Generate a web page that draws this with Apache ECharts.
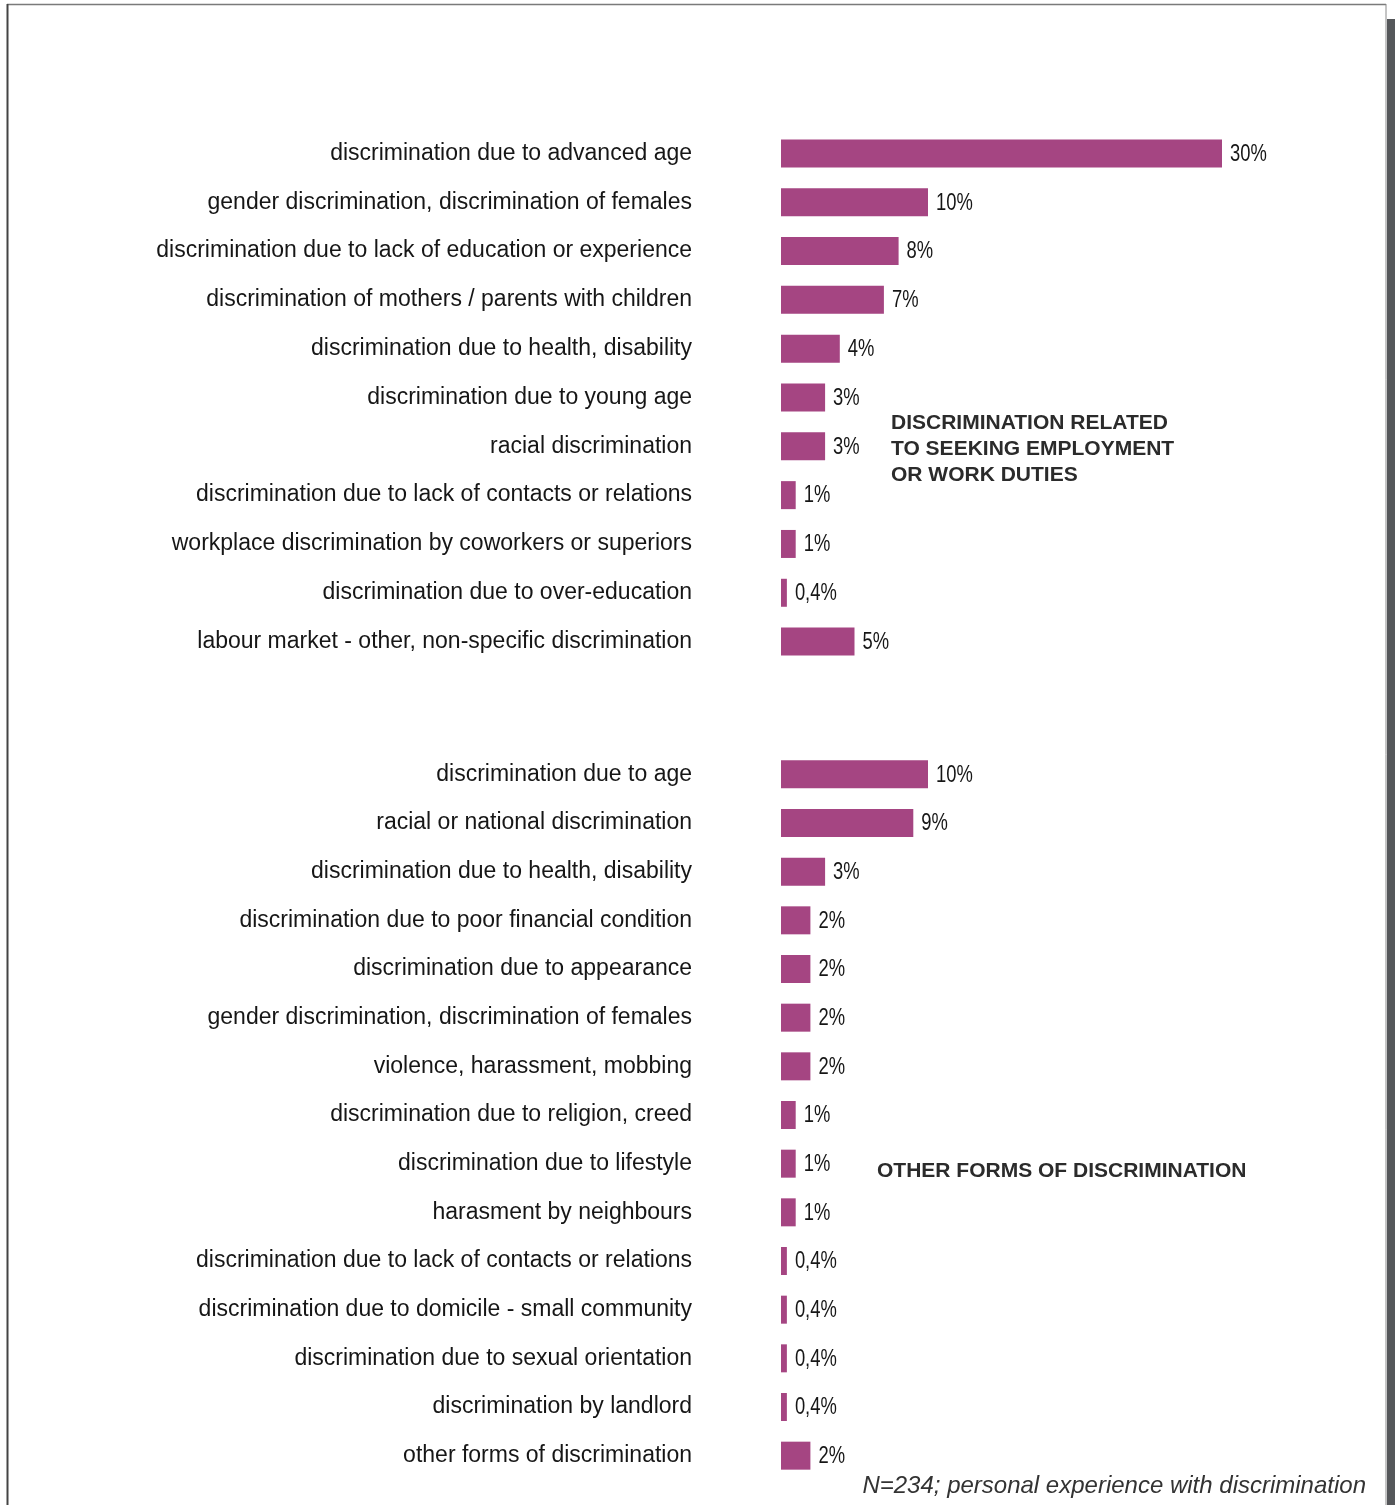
<!DOCTYPE html>
<html>
<head>
<meta charset="utf-8">
<script src="https://cdn.jsdelivr.net/npm/echarts@6/dist/echarts.min.js"></script>
<style>
  html, body { margin: 0; padding: 0; background: #fff; }
  #chart { width: 1396px; height: 1505px; }
</style>
</head>
<body>
<div id="chart"></div>
<script>
// Labour-market related discrimination
const workCategories = [
  'discrimination due to advanced age',
  'gender discrimination, discrimination of females',
  'discrimination due to lack of education or experience',
  'discrimination of mothers / parents with children',
  'discrimination due to health, disability',
  'discrimination due to young age',
  'racial discrimination',
  'discrimination due to lack of contacts or relations',
  'workplace discrimination by coworkers or superiors',
  'discrimination due to over-education',
  'labour market - other, non-specific discrimination'
];
const workValues = [30, 10, 8, 7, 4, 3, 3, 1, 1, 0.4, 5];

// Other forms of discrimination
const otherCategories = [
  'discrimination due to age',
  'racial or national discrimination',
  'discrimination due to health, disability',
  'discrimination due to poor financial condition',
  'discrimination due to appearance',
  'gender discrimination, discrimination of females',
  'violence, harassment, mobbing',
  'discrimination due to religion, creed',
  'discrimination due to lifestyle',
  'harasment by neighbours',
  'discrimination due to lack of contacts or relations',
  'discrimination due to domicile - small community',
  'discrimination due to sexual orientation',
  'discrimination by landlord',
  'other forms of discrimination'
];
const otherValues = [10, 9, 3, 2, 2, 2, 2, 1, 1, 1, 0.4, 0.4, 0.4, 0.4, 2];

const sectionTitles = [
  'DISCRIMINATION RELATED\nTO SEEKING EMPLOYMENT\nOR WORK DUTIES',
  'OTHER FORMS OF DISCRIMINATION'
];
const footnote = 'N=234; personal experience with discrimination';

const BAR_COLOR = '#a54582';
const LABEL_FONT = '"Liberation Sans", Arial, Helvetica, sans-serif';

function fmtPct(v) {
  return String(v).replace('.', ',') + '%';
}

function catAxis(gridIndex, data) {
  return {
    type: 'category',
    gridIndex: gridIndex,
    data: data,
    inverse: true,
    axisLine: { show: false },
    axisTick: { show: false },
    axisLabel: {
      margin: 89,
      color: '#161616',
      fontSize: 23,
      fontFamily: LABEL_FONT
    }
  };
}

function valAxis(gridIndex) {
  return {
    type: 'value',
    gridIndex: gridIndex,
    min: 0,
    max: 30,
    show: false,
    splitLine: { show: false }
  };
}

function barSeries(idx, values) {
  return {
    type: 'bar',
    xAxisIndex: idx,
    yAxisIndex: idx,
    data: values,
    barWidth: 28,
    itemStyle: { color: BAR_COLOR },
    silent: true
  };
}

// Percentage labels set in a horizontally condensed face at the bar ends
function valueLabelSeries(idx, values) {
  return {
    type: 'custom',
    xAxisIndex: idx,
    yAxisIndex: idx,
    silent: true,
    encode: { x: 0, y: 1 },
    data: values.map((v, i) => [v, i]),
    renderItem: function (params, api) {
      const v = api.value(0);
      const pt = api.coord([v, api.value(1)]);
      return {
        type: 'text',
        x: pt[0] + 8,
        y: pt[1] + 1,
        scaleX: 0.8,
        style: {
          text: fmtPct(v),
          font: '23px ' + LABEL_FONT,
          fill: '#161616',
          align: 'left',
          verticalAlign: 'middle',
          textAlign: 'left',
          textVerticalAlign: 'middle'
        }
      };
    }
  };
}

const chart = echarts.init(document.getElementById('chart'), null, { renderer: 'canvas' });

chart.setOption({
  backgroundColor: '#ffffff',
  animation: false,
  grid: [
    { left: 781, width: 441, top: 129, height: 537 },
    { left: 781, width: 441, top: 750, height: 730 }
  ],
  xAxis: [valAxis(0), valAxis(1)],
  yAxis: [catAxis(0, workCategories), catAxis(1, otherCategories)],
  series: [
    barSeries(0, workValues),
    barSeries(1, otherValues),
    valueLabelSeries(0, workValues),
    valueLabelSeries(1, otherValues)
  ],
  graphic: [
    // page frame
    { type: 'line', shape: { x1: 7, y1: 4.5, x2: 1386, y2: 4.5 }, style: { stroke: '#7a7a7a', lineWidth: 1.5 } },
    { type: 'line', shape: { x1: 7.5, y1: 4, x2: 7.5, y2: 1505 }, style: { stroke: '#444', lineWidth: 2 } },
    { type: 'line', shape: { x1: 1386, y1: 4, x2: 1386, y2: 1505 }, style: { stroke: '#8a8a8a', lineWidth: 1 } },
    { type: 'rect', shape: { x: 1387, y: 19, width: 8, height: 1486 }, style: { fill: '#55575a' } },
    // section titles
    {
      type: 'text', left: 891, top: 410,
      style: {
        text: sectionTitles[0], fill: '#2b2b2b',
        font: 'bold 21px ' + LABEL_FONT, lineHeight: 26
      }
    },
    {
      type: 'text', left: 877, top: 1161,
      style: {
        text: sectionTitles[1], fill: '#2b2b2b',
        font: 'bold 21px ' + LABEL_FONT
      }
    },
    // footnote
    {
      type: 'text', right: 30, top: 1474,
      style: {
        text: footnote, fill: '#333',
        font: 'italic 24px ' + LABEL_FONT
      }
    }
  ]
});
</script>
</body>
</html>
